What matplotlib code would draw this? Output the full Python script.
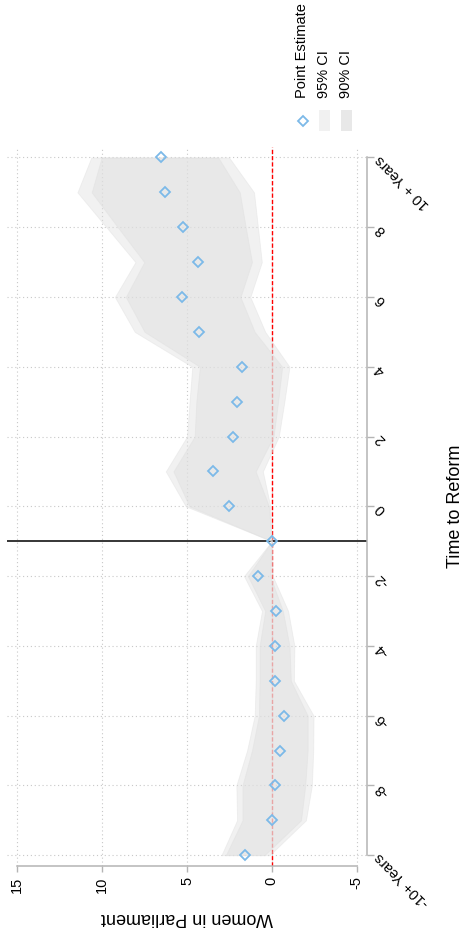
import matplotlib
matplotlib.use("Agg")
import matplotlib.pyplot as plt
from matplotlib.lines import Line2D
from matplotlib.patches import Rectangle
import numpy as np

plt.rcParams['font.family'] = ['Liberation Sans', 'DejaVu Sans']

# data (time to reform, -10 .. 10)
time = list(range(-10, 11))
estimate = [1.6, 0.0, -0.18, -0.51, -0.74, -0.16, -0.18, -0.26, 0.8, 0.0,
            2.55, 3.45, 2.3, 2.05, 1.75, 4.27, 5.3, 4.33, 5.25, 6.27, 6.56]
ci95_hi = [2.97, 2.05, 2.09, 1.46, 1.01, 0.95, 0.95, 0.58, 1.64, 0.0,
           5.07, 6.25, 5.0, 4.85, 4.69, 8.08, 9.25, 8.04, 9.75, 11.46, 10.64]
ci90_hi = [2.71, 1.73, 1.73, 1.17, 0.76, 0.72, 0.72, 0.39, 1.41, 0.0,
           4.86, 5.8, 4.55, 4.45, 4.24, 7.5, 8.61, 7.52, 9.08, 10.62, 10.03]
ci90_lo = [0.43, -1.72, -1.97, -2.11, -2.11, -1.12, -1.04, -0.65, 0.1, 0.0,
           0.17, 0.95, -0.1, -0.37, -0.61, 1.01, 1.85, 1.17, 1.54, 1.89, 3.16]
ci95_lo = [0.13, -2.01, -2.36, -2.44, -2.46, -1.3, -1.33, -0.96, -0.05, 0.0,
           0.09, 0.53, -0.41, -0.74, -1.04, 0.39, 1.27, 0.59, 0.82, 1.05, 2.52]

time_ticks = [-10, -8, -6, -4, -2, 0, 2, 4, 6, 8, 10]
time_labels = ["-10+ Years", "-8", "-6", "-4", "-2", "0", "2", "4", "6", "8", "10 + Years"]
value_ticks = [15, 10, 5, 0, -5]
value_labels = ["15", "10", "5", "0", "-5"]

W, H = 463, 930
fig = plt.figure(figsize=(W / 100, H / 100), dpi=100)
ax = fig.add_axes([7 / W, 1 - 866 / H, 360 / W, 719 / H])

axis_grey = '#b4b4b4'
band = '#e0e0e0'
blue = '#7cb9e8'

ax.fill_betweenx(time, ci95_lo, ci95_hi, color=band, alpha=0.45, lw=0.6, zorder=3)
ax.fill_betweenx(time, ci90_lo, ci90_hi, color=band, alpha=0.53, lw=0.6, zorder=3)
ax.axvline(0, color='red', lw=1.0, ls=(0, (3, 1.5)), zorder=2)
ax.axhline(-1, color='black', lw=1.1, zorder=2)
ax.plot(estimate, time, 'D', mfc='none', mec=blue, ms=5.5, mew=1.3, zorder=5)

ax.set_xlim(15.61, -5.61)
ax.set_ylim(-10.31, 10.3)

ax.set_axisbelow(True)
ax.grid(True, ls=(0, (1, 2.5)), color='#c8c8c8', lw=0.8)

for s in ['top', 'left']:
    ax.spines[s].set_visible(False)
for s in ['bottom', 'right']:
    ax.spines[s].set_color(axis_grey)
    ax.spines[s].set_linewidth(1.1)
ax.spines['bottom'].set_bounds(-5, 15)
ax.spines['right'].set_bounds(-10, 10)

ax.yaxis.tick_right()
ax.set_xticks(value_ticks)
ax.set_xticklabels(value_labels)
ax.set_yticks(time_ticks)
ax.set_yticklabels(time_labels)

ax.tick_params(axis='x', direction='out', length=4.5, width=1, color=axis_grey,
               pad=3, labelsize=10.5, labelrotation=90)
ax.tick_params(axis='y', direction='out', length=5, width=1, color=axis_grey,
               pad=2.5, labelsize=10.5)
for lab in ax.get_yticklabels():
    lab.set_rotation(135)
    lab.set_rotation_mode('anchor')
    lab.set_ha('right')
    lab.set_va('center')

ax.set_xlabel("Women in Parliament", fontsize=13, rotation=180, ha='center', va='center')
ax.xaxis.set_label_coords(0.5, (866 - 917) / 719)
ax.yaxis.set_label_position('right')
ax.set_ylabel("Time to Reform", fontsize=13)
ax.yaxis.label.set_rotation(90)
ax.yaxis.label.set_rotation_mode('default')
ax.yaxis.label.set_ha('center')
ax.yaxis.label.set_va('center')
ax.yaxis.set_label_coords((455 - 7) / 360, 0.5)

# legend, drawn by hand so the text can be rotated like the rest of the chart
tf = fig.transFigure
fig.add_artist(Line2D([302.7 / W], [1 - 120.7 / H], marker='D', mfc='none', mec=blue,
                      ms=5.5, mew=1.3, transform=tf))
fig.add_artist(Rectangle((319 / W, 1 - 131 / H), 11 / W, 21 / H, facecolor='#f1f1f1',
                         edgecolor='none', transform=tf))
fig.add_artist(Rectangle((341 / W, 1 - 131 / H), 11 / W, 21 / H, facecolor='#e8e8e8',
                         edgecolor='none', transform=tf))
for xpix, txt in [(302.5, "Point Estimate"), (324.5, "95% CI"), (346.5, "90% CI")]:
    fig.text(xpix / W, 1 - 98 / H, txt, rotation=90, rotation_mode='anchor',
             ha='left', va='center', fontsize=10.5)

fig.savefig("out.png", dpi=100)
